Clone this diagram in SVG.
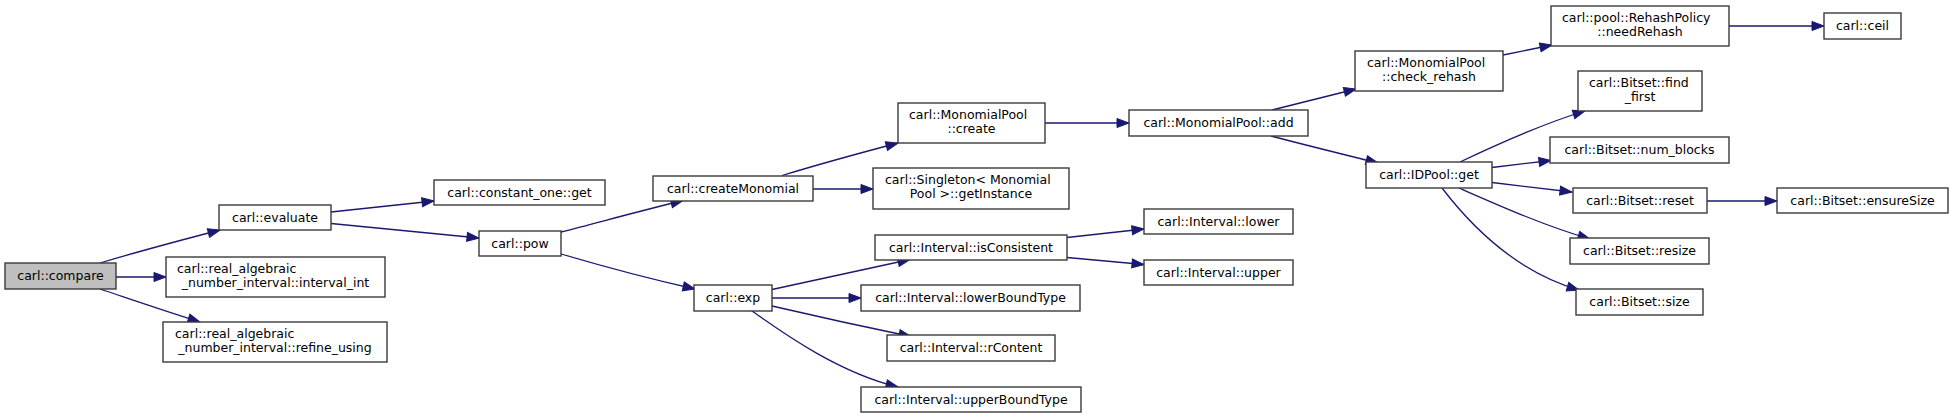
<svg xmlns="http://www.w3.org/2000/svg" width="1953" height="418" viewBox="0 0 1953 418">
<style>
.n rect{fill:#ffffff;stroke:#3a3a3a;stroke-width:1.4}
.n.root rect{fill:#bfbfbf}
.n text{font-family:"DejaVu Sans",sans-serif;font-size:12.5px;fill:#000000}
.c{text-anchor:middle}
.s{text-anchor:start}
#edges path{fill:none;stroke:#191970;stroke-width:1.3;marker-end:url(#ah)}
</style>
<defs>
<marker id="ah" markerUnits="userSpaceOnUse" markerWidth="12" markerHeight="9" viewBox="0 0 12 9" refX="12" refY="4.5" orient="auto" overflow="visible">
<path d="M0,0 L12,4.5 L0,9 z" fill="#191970" stroke="#191970" stroke-width="1"/>
</marker>
</defs>
<rect width="1953" height="418" fill="#ffffff"/>
<g id="edges">
<path d="M100,263 C130,254 170,243 220,230"/>
<path d="M116,277 L166,277"/>
<path d="M100,289 C130,299 165,311 200,322"/>
<path d="M331,212 L434,201"/>
<path d="M331,223.5 L479,238"/>
<path d="M561,232 C600,222 640,211 683,200.5"/>
<path d="M561,254 C605,267 650,279 695,289"/>
<path d="M782,175.5 C820,164 860,153 898,143"/>
<path d="M813,189 L873,189"/>
<path d="M772,289.5 C815,280 860,270 910,259.5"/>
<path d="M772,298 L861,298"/>
<path d="M772,306 C815,316 860,326 911,336.5"/>
<path d="M752,311 C775,327 835,372 898,387"/>
<path d="M1067,237.5 L1144,229"/>
<path d="M1067,257.5 L1144,264.5"/>
<path d="M1045,123 L1129,123"/>
<path d="M1272,110 C1300,103 1328,96 1356,89"/>
<path d="M1271,136 C1305,145 1342,154 1378,163"/>
<path d="M1503,55 L1552,45"/>
<path d="M1729,26 L1824,26"/>
<path d="M1460,162 C1500,143 1545,123 1585,111"/>
<path d="M1492,167.5 L1551,160.5"/>
<path d="M1492,182.5 L1572,192"/>
<path d="M1459,188 C1500,206 1545,226 1590,239"/>
<path d="M1442,188 C1465,218 1510,270 1579,290"/>
<path d="M1707,201 L1777,201"/>
</g>
<g id="n_compare" class="n root"><rect x="5" y="263" width="111" height="26"/><text class="c" x="60.5" y="280">carl::compare</text></g>
<g id="n_evaluate" class="n"><rect x="219" y="205" width="112" height="25"/><text class="c" x="275" y="222">carl::evaluate</text></g>
<g id="n_interval_int" class="n"><rect x="166" y="257" width="219" height="40"/><text class="s" x="177" y="273">carl::real_algebraic</text><text class="c" x="275.5" y="287">_number_interval::interval_int</text></g>
<g id="n_refine_using" class="n"><rect x="163" y="322" width="224" height="40"/><text class="s" x="175" y="338">carl::real_algebraic</text><text class="c" x="275" y="352">_number_interval::refine_using</text></g>
<g id="n_constant_one_get" class="n"><rect x="434" y="180" width="171" height="25"/><text class="c" x="519.5" y="197">carl::constant_one::get</text></g>
<g id="n_pow" class="n"><rect x="479" y="231" width="82" height="25"/><text class="c" x="520" y="248">carl::pow</text></g>
<g id="n_createMonomial" class="n"><rect x="653" y="176" width="160" height="25"/><text class="c" x="733" y="193">carl::createMonomial</text></g>
<g id="n_exp" class="n"><rect x="694" y="285" width="78" height="26"/><text class="c" x="733" y="302">carl::exp</text></g>
<g id="n_mp_create" class="n"><rect x="898" y="103" width="147" height="40"/><text class="s" x="909" y="119">carl::MonomialPool</text><text class="c" x="971.5" y="133">::create</text></g>
<g id="n_singleton" class="n"><rect x="873" y="168" width="196" height="41"/><text class="s" x="885" y="184">carl::Singleton&lt; Monomial</text><text class="c" x="971" y="198">Pool &gt;::getInstance</text></g>
<g id="n_isConsistent" class="n"><rect x="875" y="235" width="192" height="25"/><text class="c" x="971" y="252">carl::Interval::isConsistent</text></g>
<g id="n_lowerBoundType" class="n"><rect x="861" y="285" width="219" height="26"/><text class="c" x="970.5" y="302">carl::Interval::lowerBoundType</text></g>
<g id="n_rContent" class="n"><rect x="887" y="335" width="168" height="26"/><text class="c" x="971" y="352">carl::Interval::rContent</text></g>
<g id="n_upperBoundType" class="n"><rect x="861" y="387" width="220" height="25"/><text class="c" x="971" y="404">carl::Interval::upperBoundType</text></g>
<g id="n_mp_add" class="n"><rect x="1129" y="110" width="179" height="26"/><text class="c" x="1218.5" y="127">carl::MonomialPool::add</text></g>
<g id="n_lower" class="n"><rect x="1144" y="209" width="149" height="25"/><text class="c" x="1218.5" y="226">carl::Interval::lower</text></g>
<g id="n_upper" class="n"><rect x="1144" y="260" width="149" height="25"/><text class="c" x="1218.5" y="277">carl::Interval::upper</text></g>
<g id="n_check_rehash" class="n"><rect x="1355" y="51" width="148" height="40"/><text class="s" x="1367" y="67">carl::MonomialPool</text><text class="c" x="1429" y="81">::check_rehash</text></g>
<g id="n_idpool_get" class="n"><rect x="1366" y="162" width="126" height="26"/><text class="c" x="1429" y="179">carl::IDPool::get</text></g>
<g id="n_needRehash" class="n"><rect x="1551" y="6" width="178" height="40"/><text class="s" x="1562" y="22">carl::pool::RehashPolicy</text><text class="c" x="1640" y="36">::needRehash</text></g>
<g id="n_ceil" class="n"><rect x="1824" y="13" width="77" height="26"/><text class="c" x="1862.5" y="30">carl::ceil</text></g>
<g id="n_find_first" class="n"><rect x="1578" y="71" width="124" height="40"/><text class="s" x="1589" y="87">carl::Bitset::find</text><text class="c" x="1640" y="101">_first</text></g>
<g id="n_num_blocks" class="n"><rect x="1550" y="137" width="179" height="26"/><text class="c" x="1639.5" y="154">carl::Bitset::num_blocks</text></g>
<g id="n_reset" class="n"><rect x="1573" y="188" width="134" height="25"/><text class="c" x="1640" y="205">carl::Bitset::reset</text></g>
<g id="n_ensureSize" class="n"><rect x="1777" y="188" width="171" height="25"/><text class="c" x="1862.5" y="205">carl::Bitset::ensureSize</text></g>
<g id="n_resize" class="n"><rect x="1570" y="238" width="139" height="26"/><text class="c" x="1639.5" y="255">carl::Bitset::resize</text></g>
<g id="n_size" class="n"><rect x="1576" y="289" width="127" height="26"/><text class="c" x="1639.5" y="306">carl::Bitset::size</text></g>
</svg>
